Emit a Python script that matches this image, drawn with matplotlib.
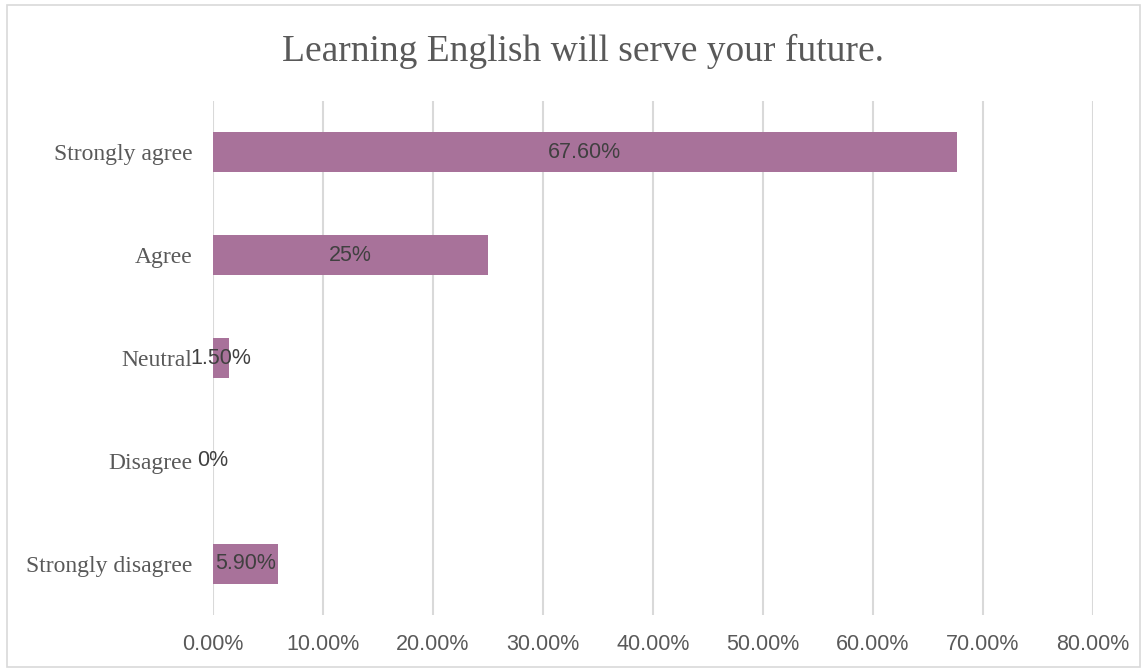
import matplotlib.pyplot as plt
from matplotlib.patches import Rectangle

categories = ['Strongly agree', 'Agree', 'Neutral', 'Disagree', 'Strongly disagree']
values = [67.6, 25.0, 1.5, 0.0, 5.9]
value_labels = ['67.60%', '25%', '1.50%', '0%', '5.90%']
xticks = [0, 10, 20, 30, 40, 50, 60, 70, 80]
xtick_labels = ['%.2f%%' % t for t in xticks]

bar_color = '#A8729A'
grid_color = '#D9D9D9'

fig = plt.figure(figsize=(11.45, 6.72), dpi=100)
ax = fig.add_axes([0.186, 0.0848, 0.7686, 0.7649])

ypos = list(range(len(categories)))
ax.barh(ypos, values, height=0.39, color=bar_color, zorder=2)

for y, v, lab in zip(ypos, values, value_labels):
    ax.text(v / 2, y, lab, ha='center', va='center', fontsize=15.5,
            family='Liberation Sans', color='#404040', zorder=3)

ax.set_ylim(len(categories) - 0.5, -0.5)
ax.set_xlim(0, 80)
ax.set_yticks(ypos)
ax.set_yticklabels(categories, family='Liberation Serif', fontsize=17, color='#595959')
ax.set_xticks(xticks)
ax.set_xticklabels(xtick_labels, family='Liberation Sans', fontsize=15.5, color='#595959')
ax.tick_params(axis='y', length=0, pad=15)
ax.tick_params(axis='x', length=0, pad=14)

ax.grid(axis='x', color=grid_color, linewidth=1.5, zorder=0)
for s in ax.spines.values():
    s.set_visible(False)

fig.text(0.509, 0.909, 'Learning English will serve your future.', ha='center', va='baseline',
         family='Liberation Serif', fontsize=27, color='#595959')

# light frame around the whole chart
fig.patches.append(Rectangle((0.006, 0.007), 0.99, 0.985, transform=fig.transFigure,
                             fill=False, edgecolor=grid_color, linewidth=1.2))

fig.savefig('out.png', dpi=100)
